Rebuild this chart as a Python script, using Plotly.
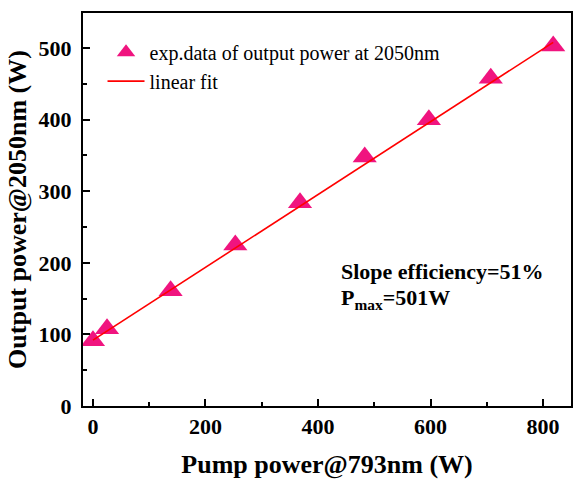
import plotly.graph_objects as go

pump = [0, 25, 138, 253, 368, 483, 597, 707, 818]
output = [91, 108, 161, 225, 284, 348, 400, 458, 503]

fit_x = [0, 818]
fit_y = [92, 508]

FONT = "Liberation Serif"

fig = go.Figure()
fig.add_trace(go.Scatter(
    x=pump, y=output, mode="markers",
    name="exp.data of output power at 2050nm",
    marker=dict(symbol="triangle-up", size=21, color="#F0147F"),
))
fig.add_trace(go.Scatter(
    x=fit_x, y=fit_y, mode="lines", name="linear fit",
    line=dict(color="#FF0000", width=1.6),
))

axis_common = dict(
    showline=True, mirror=True, linecolor="black", linewidth=2,
    ticks="inside", tickwidth=2, ticklen=7, tickcolor="black",
    showgrid=False, zeroline=False,
    tickfont=dict(family=FONT, size=22, color="black", weight="bold"),
    minor=dict(ticks="inside", ticklen=4, tickwidth=2, tickcolor="black"),
)

fig.update_xaxes(
    range=[-17.7, 849.6], tickvals=[0, 200, 400, 600, 800],
    minor_tickvals=[100, 300, 500, 700],
    title=dict(text="Pump power@793nm (W)", standoff=16,
               font=dict(family=FONT, size=26, color="black", weight="bold")),
    **axis_common,
)
fig.update_yaxes(
    range=[0, 549], tickvals=[0, 100, 200, 300, 400, 500],
    minor_tickvals=[50, 150, 250, 350, 450],
    ticklabelstandoff=5,
    title=dict(text="Output power@2050nm (W)", standoff=4,
               font=dict(family=FONT, size=26, color="black", weight="bold")),
    **axis_common,
)

ann_font = dict(family=FONT, size=22, color="black", weight="bold")
fig.add_annotation(
    x=0.524, y=0.341, xref="paper", yref="paper", xanchor="left", yanchor="middle",
    text="Slope efficiency=51%", showarrow=False, font=ann_font,
)
fig.add_annotation(
    x=0.524, y=0.272, xref="paper", yref="paper", xanchor="left", yanchor="middle",
    text="P<sub>max</sub>=501W", showarrow=False, font=ann_font,
)

fig.update_layout(
    width=584, height=491,
    margin=dict(l=83, r=11, t=13, b=85),
    plot_bgcolor="white", paper_bgcolor="white",
    legend=dict(x=0.04, y=0.95, xanchor="left", yanchor="top",
                bgcolor="rgba(0,0,0,0)", tracegroupgap=0, itemwidth=37,
                font=dict(family=FONT, size=20, color="black")),
)

fig.write_html("out.html")
